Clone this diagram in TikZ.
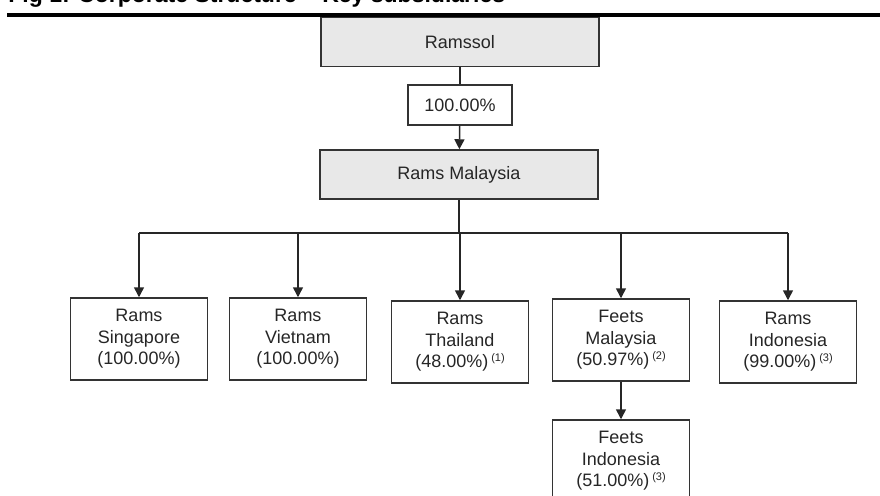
\documentclass[tikz,border=0pt]{standalone}
\usepackage{fontspec}
\setmainfont{Liberation Sans}
\usetikzlibrary{arrows.meta}
\newcommand{\fnmark}[1]{\hspace{1.5pt}\raisebox{3pt}{\fontsize{5.5}{6}\selectfont(#1)}}
\begin{document}
\begin{tikzpicture}[x=0.5pt,y=-0.5pt,>={Triangle[width=5pt,length=5pt]},
    every node/.style={font=\fontsize{9}{10.8}\selectfont, text=black!85, align=center},
    entity/.style={draw=black!80, line width=0.75pt, minimum width=68.5pt, minimum height=41pt, inner sep=0pt},
    parent/.style={entity, fill=black!9, minimum width=139pt, minimum height=24.5pt},
    stake/.style={draw=black!80, line width=0.75pt, minimum width=52pt, minimum height=20pt, inner sep=0pt},
    link/.style={line width=0.75pt, draw=black!85}]
    \useasboundingbox (0,0) rectangle (880,495);
    % title and rule
    \node[anchor=base west, inner sep=0pt, font=\fontsize{11.5}{13}\selectfont\bfseries, text=black] (title) at (8,2.5) {Fig 1: Corporate Structure -- Key subsidiaries};
    \draw[line width=1.9pt] (7,14.7) -- (880,14.7);
    % holding companies
    \node[parent] (ramssol) at (460,42) {Ramssol};
    \node[stake] (share) at (460,105) {100.00\%};
    \node[parent] (malaysia) at (459,174.5) {Rams Malaysia};
    \draw[link] (ramssol) -- (share);
    \draw[link,->] (share) -- (malaysia);
    % subsidiaries
    \node[entity] (singapore) at (139,339) {Rams\\Singapore\\(100.00\%)};
    \node[entity] (vietnam) at (298,339) {Rams\\Vietnam\\(100.00\%)};
    \node[entity] (thailand) at (460,342) {Rams\\Thailand\\(48.00\%)\fnmark{1}};
    \node[entity] (feetsmy) at (621,340) {Feets\\Malaysia\\(50.97\%)\fnmark{2}};
    \node[entity] (indonesia) at (788,342) {Rams\\Indonesia\\(99.00\%)\fnmark{3}};
    \node[entity] (feetsid) at (621,461) {Feets\\Indonesia\\(51.00\%)\fnmark{3}};
    \coordinate (bus) at (459,233);
    \draw[link] (malaysia) -- (bus);
    \draw[link] (bus -| singapore) -- (bus -| indonesia);
    \foreach \sub in {singapore,vietnam,thailand,feetsmy,indonesia}
        \draw[link,->] (bus -| \sub) -- (\sub);
    \draw[link,->] (feetsmy) -- (feetsid);
\end{tikzpicture}
\end{document}
